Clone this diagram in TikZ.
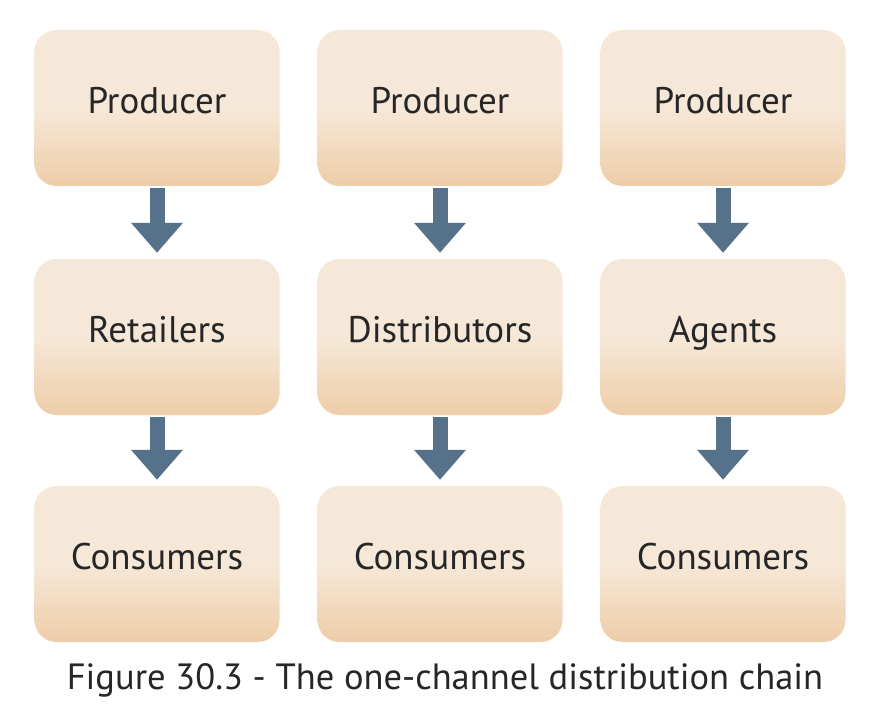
\documentclass[tikz,border=0pt]{standalone}
\usepackage{fontspec}
\setmainfont{PT Sans}
\usetikzlibrary{arrows.meta}
\definecolor{boxtop}{HTML}{F6E8D8}
\definecolor{boxbot}{HTML}{EECDA8}
\definecolor{arr}{HTML}{56718A}
\tikzset{
  box/.style={rounded corners=22pt, minimum width=245pt, minimum height=156pt,
    top color=boxtop, bottom color=boxbot, middle color=boxtop, shading angle=0,
    font=\fontsize{37}{37}\selectfont, text=black!85, inner sep=0pt,
    text height=1.3em, text depth=0.22em},
  flow/.style={draw=arr, line width=15pt, -{Triangle[width=50pt,length=30pt]}, shorten <=2pt, shorten >=6pt}
}
\begin{document}
\begin{tikzpicture}[x=1pt,y=-1pt]
\useasboundingbox[fill=white] (0,0) rectangle (872,714);
\foreach \c/\x in {1/157,2/440,3/723}{
  \node[box] (p\c) at (\x,108) {Producer};
}
\node[box] (m1) at (157,337) {Retailers};
\node[box] (m2) at (440,337) {Distributors};
\node[box] (m3) at (723,337) {Agents};
\foreach \c/\x in {1/157,2/440,3/723}{
  \node[box] (c\c) at (\x,564) {Consumers};
  \draw[flow] (p\c) -- (m\c);
  \draw[flow] (m\c) -- (c\c);
}
\node[font=\fontsize{36.5}{36.5}\selectfont, text=black!85] (cap) at (445,680) {Figure 30.3 - The one-channel distribution chain};
\end{tikzpicture}
\end{document}
